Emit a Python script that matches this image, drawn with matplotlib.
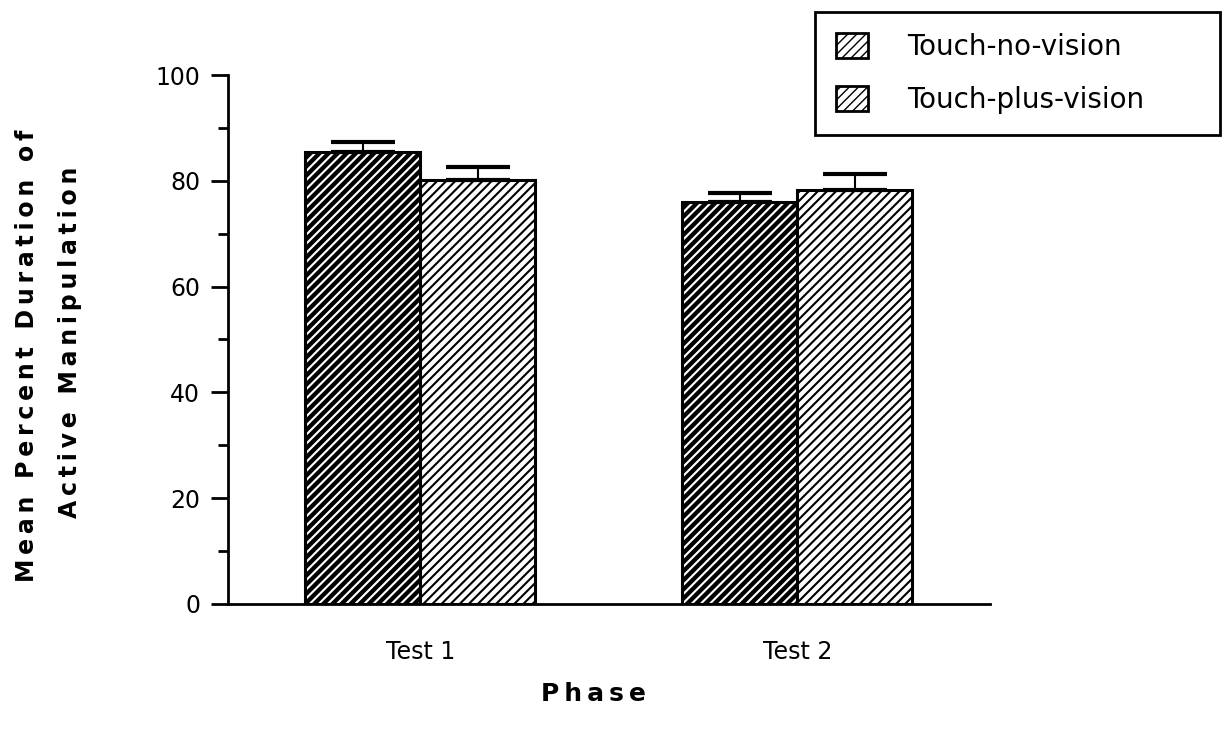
import numpy as np
import matplotlib.pyplot as plt
import matplotlib.path as mpath
from matplotlib.patches import Patch

plt.rcParams['font.family'] = ['DejaVu Sans']

# rayado: densidad par para que el motivo encaje entre celdas
_hatch_orig = mpath.Path.hatch
mpath.Path.hatch = staticmethod(lambda pattern, density=22: _hatch_orig(pattern, 22))

# datos
phases = ['Test 1', 'Test 2']
no_vision = [85.4, 76.0]
no_vision_err = [1.9, 1.8]
plus_vision = [80.2, 78.3]
plus_vision_err = [2.4, 3.0]
series_names = ['Touch-no-vision', 'Touch-plus-vision']


def spaced(s):
    # imitar el espaciado entre letras
    return '\u2009'.join(s)


fig = plt.figure(figsize=(12.25, 7.3), dpi=100)
ax = fig.add_axes([0.186, 0.173, 0.622, 0.724])

x = np.arange(len(phases))
w = 0.305

b1 = ax.bar(x - w/2, no_vision, w, color='white', edgecolor='black', linewidth=2.2,
            hatch='/', yerr=[np.zeros(2), no_vision_err], capsize=23,
            error_kw=dict(elinewidth=1.5, capthick=3, ecolor='black'))
b2 = ax.bar(x + w/2, plus_vision, w, color='white', edgecolor='black', linewidth=2.2,
            hatch='/', yerr=[np.zeros(2), plus_vision_err], capsize=23,
            error_kw=dict(elinewidth=1.5, capthick=3, ecolor='black'))

# grosor del rayado
for p in b1.patches:
    p.set_hatch_linewidth(3.1)
for p in b2.patches:
    p.set_hatch_linewidth(1.5)

ax.set_xlim(-0.51, 1.51)
ax.set_ylim(0, 100)
ax.set_yticks([0, 20, 40, 60, 80, 100])
ax.set_yticks([10, 30, 50, 70, 90], minor=True)
ax.tick_params(axis='y', which='major', length=12, width=2, labelsize=17, pad=8)
ax.tick_params(axis='y', which='minor', length=7, width=2)
ax.set_xticks(x)
ax.set_xticklabels(phases)
ax.tick_params(axis='x', length=0, labelsize=17, pad=26)

for s in ['top', 'right']:
    ax.spines[s].set_visible(False)
ax.spines['left'].set_linewidth(2)
ax.spines['bottom'].set_linewidth(2)

ax.set_xlabel(spaced('Phase'), fontsize=18, fontweight='bold')
ax.xaxis.set_label_coords(0.48, -0.148)
fig.text(0.022, 0.512, spaced('Mean Percent Duration of'), rotation=90,
         ha='center', va='center', fontsize=17, fontweight='bold')
fig.text(0.057, 0.531, spaced('Active Manipulation'), rotation=90,
         ha='center', va='center', fontsize=17, fontweight='bold')

# leyenda
h1 = Patch(facecolor='white', edgecolor='black', hatch='/', linewidth=2)
h2 = Patch(facecolor='white', edgecolor='black', hatch='/', linewidth=2)
h1.set_hatch_linewidth(3.0)
h2.set_hatch_linewidth(1.8)
leg = fig.legend([h1, h2], series_names, loc='upper left',
                 bbox_to_anchor=(815/1225, 1 - 137/730, 405/1225, 125/730), mode='expand',
                 fontsize=20, frameon=True, fancybox=False, edgecolor='black', framealpha=1,
                 handlelength=1.15, handleheight=1.0, handletextpad=1.4,
                 borderpad=0.75, labelspacing=0.92, borderaxespad=0)
leg.get_frame().set_linewidth(2)

fig.savefig('out.png', dpi=100)
